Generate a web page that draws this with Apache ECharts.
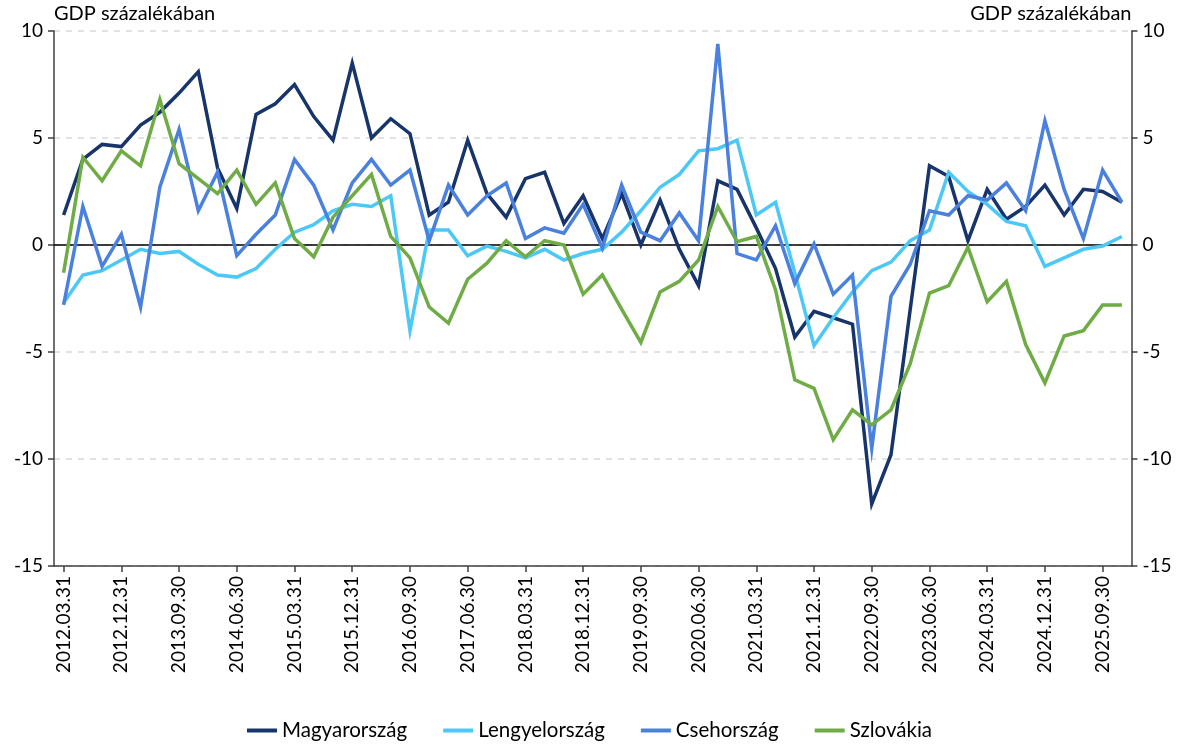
<!DOCTYPE html>
<html>
<head>
<meta charset="utf-8">
<script src="https://cdn.jsdelivr.net/npm/echarts@6/dist/echarts.min.js"></script>
<style>
html,body{margin:0;padding:0;background:#fff;}
#chart{width:1179px;height:746px;}
</style>
</head>
<body>
<div id="chart"></div>
<script>
const categories = [
  "2012.03.31","2012.06.30","2012.09.30","2012.12.31",
  "2013.03.31","2013.06.30","2013.09.30","2013.12.31",
  "2014.03.31","2014.06.30","2014.09.30","2014.12.31",
  "2015.03.31","2015.06.30","2015.09.30","2015.12.31",
  "2016.03.31","2016.06.30","2016.09.30","2016.12.31",
  "2017.03.31","2017.06.30","2017.09.30","2017.12.31",
  "2018.03.31","2018.06.30","2018.09.30","2018.12.31",
  "2019.03.31","2019.06.30","2019.09.30","2019.12.31",
  "2020.03.31","2020.06.30","2020.09.30","2020.12.31",
  "2021.03.31","2021.06.30","2021.09.30","2021.12.31",
  "2022.03.31","2022.06.30","2022.09.30","2022.12.31",
  "2023.03.31","2023.06.30","2023.09.30","2023.12.31",
  "2024.03.31","2024.06.30","2024.09.30","2024.12.31",
  "2025.03.31","2025.06.30","2025.09.30","2025.12.31"
];
const magyarorszag = [1.4,4.0,4.7,4.6,5.6,6.2,7.1,8.1,3.6,1.7,6.1,6.6,7.5,6.0,4.9,8.5,5.0,5.9,5.2,1.4,2.0,4.9,2.4,1.3,3.1,3.4,1.0,2.3,0.3,2.4,0.0,2.1,-0.2,-1.9,3.0,2.6,0.8,-1.1,-4.3,-3.1,-3.4,-3.7,-12.1,-9.8,-3.0,3.7,3.2,0.2,2.6,1.2,1.8,2.8,1.4,2.6,2.5,2.0];
const lengyelorszag = [-2.7,-1.4,-1.2,-0.7,-0.2,-0.4,-0.3,-0.9,-1.4,-1.5,-1.1,-0.2,0.6,0.95,1.6,1.9,1.8,2.3,-4.0,0.7,0.7,-0.5,-0.05,-0.3,-0.6,-0.2,-0.7,-0.4,-0.2,0.6,1.6,2.7,3.3,4.4,4.5,4.9,1.4,2.0,-1.3,-4.7,-3.4,-2.2,-1.2,-0.8,0.2,0.7,3.4,2.5,1.9,1.1,0.9,-1.0,-0.6,-0.2,-0.05,0.4];
const csehorszag = [-2.8,1.8,-1.0,0.5,-2.9,2.7,5.4,1.6,3.4,-0.5,0.5,1.4,4.0,2.8,0.7,2.9,4.0,2.8,3.5,0.2,2.8,1.4,2.3,2.9,0.3,0.8,0.55,1.9,-0.15,2.8,0.6,0.2,1.5,0.2,9.4,-0.4,-0.7,0.9,-1.8,0.05,-2.3,-1.4,-9.5,-2.4,-0.9,1.6,1.4,2.3,2.1,2.9,1.6,5.8,2.6,0.3,3.5,2.0];
const szlovakia = [-1.3,4.1,3.0,4.4,3.7,6.8,3.8,3.1,2.4,3.5,1.9,2.9,0.3,-0.55,1.3,2.3,3.3,0.4,-0.6,-2.9,-3.65,-1.6,-0.85,0.2,-0.55,0.2,0.0,-2.3,-1.4,-3.0,-4.55,-2.2,-1.7,-0.7,1.8,0.15,0.4,-2.1,-6.3,-6.7,-9.1,-7.7,-8.4,-7.7,-5.55,-2.25,-1.9,-0.1,-2.65,-1.7,-4.65,-6.45,-4.25,-4.0,-2.8,-2.8];
const seriesNames = ["Magyarország","Lengyelország","Csehország","Szlovákia"];
const seriesColors = ["#17356b","#4cc8f7","#4a80de","#6fac46"];
const yTitle = "GDP százalékában";

const FONT = "Lato, 'Open Sans', sans-serif";
const chart = echarts.init(document.getElementById('chart'), null, {renderer:'canvas'});
const values = [magyarorszag, lengyelorszag, csehorszag, szlovakia];

const yAxisBase = {
  type:'value', min:-15, max:10, interval:5,
  name: yTitle, nameLocation:'end', nameGap:7,
  axisLine:{show:true, lineStyle:{color:'#404040', width:1.5}},
  axisTick:{show:true, length:6, inside:false, lineStyle:{color:'#404040', width:1.5}},
  axisLabel:{color:'#000', fontSize:19, fontFamily:FONT, margin:11}
};

chart.setOption({
  animation:false,
  backgroundColor:'#fff',
  grid:{left:54, right:47.5, top:31, bottom:180, containLabel:false},
  legend:{
    bottom:0, left:'center',
    itemWidth:30, itemHeight:4, itemGap:36, icon:'rect',
    textStyle:{color:'#000', fontSize:20.5, fontFamily:FONT},
    data:seriesNames
  },
  xAxis:[{
    type:'category', data:categories, boundaryGap:true, position:'bottom',
    axisLine:{onZero:false, lineStyle:{color:'#404040', width:1.5}},
    axisTick:{show:true, interval:2, alignWithLabel:true, length:6, lineStyle:{color:'#404040', width:1.5}},
    axisLabel:{interval:2, rotate:90, color:'#000', fontSize:19, fontFamily:FONT, margin:10},
    splitLine:{show:false}
  },{
    type:'category', data:categories, boundaryGap:true, position:'top',
    axisLine:{show:true, onZero:true, lineStyle:{color:'#000', width:1.5}},
    axisTick:{show:false}, axisLabel:{show:false}, splitLine:{show:false}
  }],
  yAxis:[
    Object.assign({}, yAxisBase, {
      position:'left',
      nameTextStyle:{color:'#000', fontSize:20, fontFamily:FONT, align:'left'},
      splitLine:{show:true, lineStyle:{color:'#d9d9d9', type:[6,6], width:1.5}}
    }),
    Object.assign({}, yAxisBase, {
      position:'right',
      nameTextStyle:{color:'#000', fontSize:20, fontFamily:FONT, align:'right'},
      splitLine:{show:false}
    })
  ],
  series: seriesNames.map((n,i)=>({
    name:n, type:'line', data:values[i], xAxisIndex:0, yAxisIndex:0,
    symbol:'none', showSymbol:false,
    lineStyle:{color:seriesColors[i], width:3.5, join:'miter'},
    itemStyle:{color:seriesColors[i]},
    z: 3 + i
  }))
});
</script>
</body>
</html>
